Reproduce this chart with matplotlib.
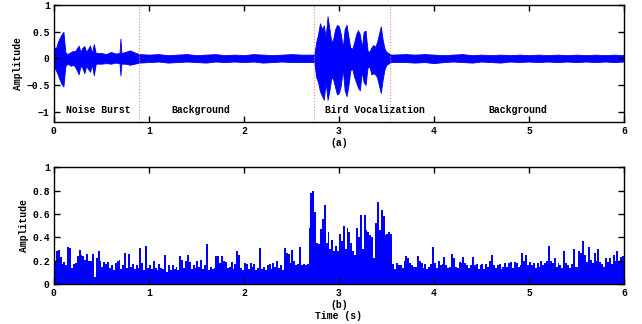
import matplotlib
matplotlib.use("Agg")
import matplotlib.pyplot as plt
import numpy as np

plt.rcParams['font.family'] = ['Liberation Mono', 'DejaVu Sans Mono']
plt.rcParams['font.weight'] = 'bold'
plt.rcParams['font.size'] = 7

# --- panel (a): waveform envelope (time s, upper, lower)
env_t = [0.00, 0.02, 0.04, 0.06, 0.08, 0.10, 0.12, 0.14, 0.16, 0.18,
         0.20, 0.22, 0.24, 0.26, 0.28, 0.30, 0.32, 0.34, 0.36, 0.38,
         0.40, 0.42, 0.44, 0.50, 0.55, 0.60, 0.65, 0.69, 0.70, 0.71,
         0.75, 0.80, 0.85, 0.90, 1.00, 1.10, 1.20, 1.30, 1.40, 1.50,
         1.60, 1.70, 1.80, 1.90, 2.00, 2.10, 2.20, 2.30, 2.40, 2.50,
         2.60, 2.74, 2.76, 2.78, 2.80, 2.82, 2.84, 2.86, 2.88, 2.90,
         2.92, 2.94, 2.96, 2.98, 3.00, 3.02, 3.04, 3.06, 3.08, 3.10,
         3.12, 3.14, 3.16, 3.18, 3.20, 3.22, 3.24, 3.26, 3.28, 3.30,
         3.32, 3.34, 3.36, 3.38, 3.40, 3.42, 3.44, 3.46, 3.48, 3.50,
         3.52, 3.55, 3.70, 3.80, 3.90, 4.00, 4.10, 4.20, 4.30, 4.40,
         4.50, 4.60, 4.70, 4.80, 4.90, 5.00, 5.10, 5.20, 5.30, 5.40,
         5.50, 5.60, 5.70, 5.80, 5.90, 6.00]
env_up = [0.22, 0.18, 0.30, 0.38, 0.45, 0.50, 0.12, 0.08, 0.10, 0.12,
          0.14, 0.13, 0.18, 0.24, 0.12, 0.20, 0.23, 0.12, 0.18, 0.24,
          0.10, 0.27, 0.10, 0.10, 0.08, 0.12, 0.09, 0.10, 0.37, 0.10,
          0.12, 0.15, 0.11, 0.08, 0.07, 0.08, 0.06, 0.07, 0.08, 0.06,
          0.07, 0.08, 0.06, 0.07, 0.06, 0.08, 0.07, 0.06, 0.07, 0.08,
          0.07, 0.07, 0.30, 0.45, 0.66, 0.55, 0.62, 0.40, 0.79, 0.55,
          0.30, 0.37, 0.55, 0.63, 0.60, 0.45, 0.20, 0.55, 0.63, 0.40,
          0.20, 0.18, 0.30, 0.45, 0.53, 0.45, 0.20, 0.50, 0.52, 0.15,
          0.12, 0.20, 0.25, 0.22, 0.30, 0.45, 0.60, 0.35, 0.18, 0.12,
          0.10, 0.07, 0.08, 0.07, 0.08, 0.07, 0.06, 0.07, 0.08, 0.06,
          0.07, 0.06, 0.07, 0.06, 0.07, 0.06, 0.07, 0.06, 0.07, 0.06,
          0.07, 0.06, 0.07, 0.06, 0.07, 0.06]
env_lo = [-0.18, -0.22, -0.30, -0.40, -0.48, -0.53, -0.15, -0.10, -0.12, -0.14,
          -0.12, -0.15, -0.22, -0.30, -0.14, -0.18, -0.28, -0.14, -0.20, -0.25,
          -0.12, -0.32, -0.10, -0.10, -0.09, -0.10, -0.08, -0.09, -0.32, -0.10,
          -0.10, -0.12, -0.10, -0.08, -0.07, -0.06, -0.08, -0.07, -0.06, -0.07,
          -0.08, -0.06, -0.07, -0.06, -0.07, -0.06, -0.08, -0.07, -0.06, -0.07,
          -0.07, -0.07, -0.35, -0.45, -0.62, -0.70, -0.78, -0.45, -0.78, -0.60,
          -0.35, -0.40, -0.55, -0.68, -0.65, -0.50, -0.20, -0.60, -0.71, -0.50,
          -0.22, -0.20, -0.35, -0.45, -0.55, -0.60, -0.25, -0.45, -0.50, -0.18,
          -0.15, -0.30, -0.28, -0.30, -0.35, -0.50, -0.65, -0.40, -0.20, -0.12,
          -0.10, -0.07, -0.07, -0.08, -0.07, -0.09, -0.07, -0.06, -0.07, -0.08,
          -0.06, -0.07, -0.08, -0.06, -0.07, -0.06, -0.07, -0.06, -0.07, -0.06,
          -0.07, -0.06, -0.07, -0.06, -0.07, -0.06]

segment_lines = [0.90, 2.74, 3.54]
segment_names = ["Noise Burst", "Background", "Bird Vocalization", "Background"]
segment_label_x = [0.47, 1.55, 3.38, 4.88]

# --- panel (b): amplitude bars, one value every 0.02 s
bar_step = 0.02
bar_h = [
    .20, .28, .29, .23, .17, .19, .16, .32, .31, .14, .17, .18, .24, .29, .25, .24, .21, .26, .20, .20, .26, .06, .22, .28, .20,
    .15, .19, .17, .19, .14, .16, .12, .18, .20, .21, .13, .16, .27, .14, .26, .15, .17, .13, .16, .14, .31, .18, .12, .33, .14,
    .16, .13, .20, .14, .12, .17, .14, .13, .25, .10, .16, .12, .16, .13, .15, .12, .24, .21, .14, .20, .25, .19, .13, .16, .14,
    .20, .15, .21, .13, .16, .34, .12, .15, .13, .14, .24, .24, .18, .24, .20, .19, .14, .15, .19, .13, .17, .28, .25, .14, .12,
    .18, .17, .13, .18, .15, .17, .12, .14, .31, .13, .15, .12, .16, .17, .13, .18, .15, .20, .14, .16, .12, .31, .27, .26, .18,
    .29, .20, .16, .17, .32, .16, .17, .16, .17, .48, .78, .80, .62, .35, .34, .47, .56, .68, .35, .45, .30, .38, .28, .33, .28,
    .43, .37, .50, .30, .48, .45, .35, .28, .25, .48, .40, .59, .30, .59, .46, .45, .42, .40, .22, .52, .70, .46, .63, .58, .42,
    .43, .45, .43, .17, .13, .18, .16, .16, .14, .20, .24, .22, .18, .16, .15, .15, .24, .20, .18, .14, .17, .13, .15, .17, .32,
    .18, .14, .20, .16, .17, .23, .16, .14, .15, .26, .22, .15, .14, .19, .18, .23, .18, .16, .14, .16, .23, .16, .17, .13, .16,
    .17, .13, .17, .15, .20, .25, .16, .14, .16, .17, .13, .15, .18, .15, .18, .19, .14, .19, .18, .15, .16, .27, .20, .25, .16,
    .19, .16, .18, .14, .18, .15, .20, .16, .18, .20, .33, .20, .18, .22, .15, .18, .16, .14, .28, .18, .16, .14, .17, .30, .15,
    .15, .28, .27, .37, .25, .19, .32, .21, .18, .27, .20, .30, .19, .17, .15, .22, .19, .22, .17, .25, .20, .28, .20, .23, .24,
]
bar_t = np.arange(len(bar_h)) * bar_step

blue = '#0000ff'

fig = plt.figure(figsize=(6.42, 3.24), dpi=100)
ax1 = fig.add_axes([0.084, 0.623, 0.888, 0.361])
ax2 = fig.add_axes([0.084, 0.123, 0.888, 0.361])

ax1.fill_between(env_t, env_lo, env_up, color=blue, linewidth=0.6, edgecolor=blue)
for x in segment_lines:
    ax1.axvline(x, color='#ff8080', linestyle=':', linewidth=0.8)
for name, x in zip(segment_names, segment_label_x):
    ax1.text(x, -0.98, name, ha='center', va='center', fontsize=7, fontweight='bold')
ax1.set_xlim(0, 6)
ax1.set_ylim(-1.2, 1)
ax1.set_yticks([-1, -0.5, 0, 0.5, 1])
ax1.set_yticklabels(['\u22121', '\u22120.5', '0', '0.5', '1'])
ax1.set_ylabel('Amplitude', fontsize=7, fontweight='bold', labelpad=2)
ax1.set_xlabel('(a)', fontsize=7, fontweight='bold', labelpad=1)

ax2.bar(bar_t, bar_h, width=bar_step, align='edge', color=blue, linewidth=0)
ax2.set_xlim(0, 6)
ax2.set_ylim(0, 1)
ax2.set_yticks([0, 0.2, 0.4, 0.6, 0.8, 1])
ax2.set_yticklabels(['0', '0.2', '0.4', '0.6', '0.8', '1'])
ax2.set_ylabel('Amplitude', fontsize=7, fontweight='bold', labelpad=2)
ax2.set_xlabel('(b)\nTime (s)', fontsize=7, fontweight='bold', labelpad=1, linespacing=1.1)

for ax in (ax1, ax2):
    ax.set_xticks(range(7))
    ax.tick_params(direction='in', top=True, right=True, length=4, width=1,
                   labelsize=7, pad=3)
    for s in ax.spines.values():
        s.set_linewidth(1)

fig.savefig('out.png', dpi=100)
